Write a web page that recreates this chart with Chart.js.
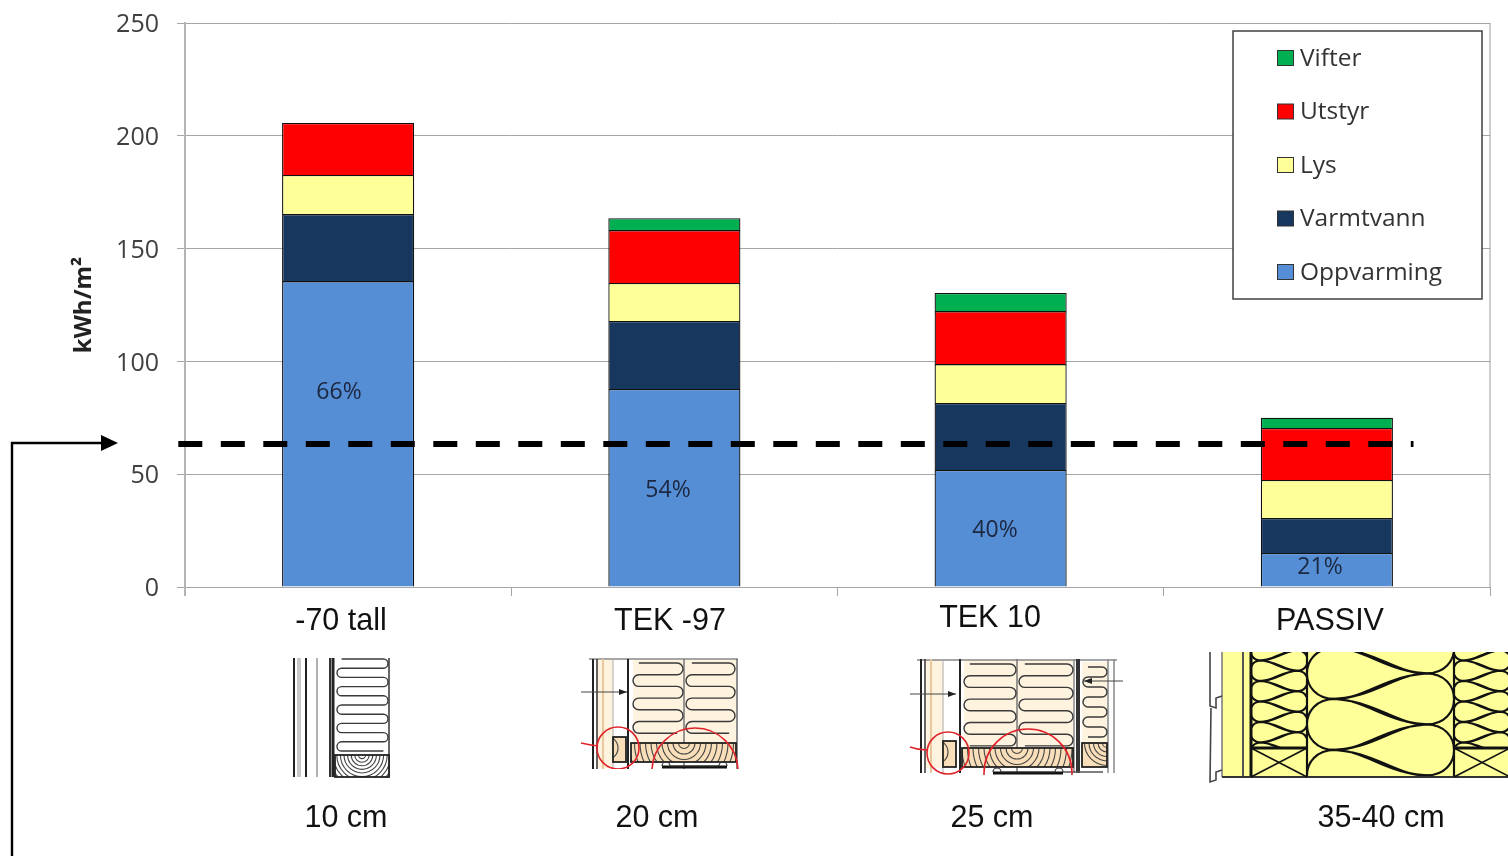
<!DOCTYPE html>
<html>
<head>
<meta charset="utf-8">
<title>kWh/m²</title>
<script src="https://cdn.jsdelivr.net/npm/chart.js@4"></script>
<style>
  html, body { margin: 0; padding: 0; background: #fff; overflow: hidden; }
  canvas { display: block; }
</style>
</head>
<body>
<canvas id="energyChart" width="1508" height="856"></canvas>
<script>
const categories = ['-70 tall', 'TEK -97', 'TEK 10', 'PASSIV'];
const thickness = ['10 cm', '20 cm', '25 cm', '35-40 cm'];
const heatingShare = ['66%', '54%', '40%', '21%'];

const oppvarming = [135.6, 87.8, 51.9, 15.1];
const varmtvann = [29.7, 30.1, 29.7, 15.5];
const lys = [17.3, 16.9, 17.2, 16.8];
const utstyr = [23.1, 23.4, 23.5, 23.1];
const vifter = [0, 5.3, 8.0, 4.5];

const limitValue = 63.4;

const UI_FONT = '"Open Sans", sans-serif';
const SLIDE_FONT = '"Liberation Sans", Arial, sans-serif';

function line(ctx, x0, y0, x1, y1, width, color) {
  ctx.beginPath();
  ctx.moveTo(x0, y0);
  ctx.lineTo(x1, y1);
  ctx.lineWidth = width;
  ctx.strokeStyle = color;
  ctx.stroke();
}

// insulation drawn as one continuous folded line
function serpentine(ctx, x0, x1, y0, step, count) {
  const r = step / 2;
  ctx.beginPath();
  ctx.moveTo(x0 + r, y0);
  for (let i = 0; i < count; i++) {
    const y = y0 + i * step;
    const toRight = i % 2 === 0;
    ctx.lineTo(toRight ? x1 - r : x0 + r, y);
    if (i < count - 1) {
      if (toRight) ctx.arc(x1 - r, y + r, r, -Math.PI / 2, Math.PI / 2);
      else ctx.arc(x0 + r, y + r, r, -Math.PI / 2, Math.PI / 2, true);
    }
  }
  ctx.lineWidth = 1.4;
  ctx.strokeStyle = '#3a3a3a';
  ctx.stroke();
}

// timber cross section with growth rings
function timber(ctx, x, y, w, h, cx, cy, ringStep, fill) {
  ctx.save();
  ctx.beginPath();
  ctx.rect(x, y, w, h);
  ctx.fillStyle = fill;
  ctx.fill();
  ctx.clip();
  ctx.lineWidth = 1.1;
  ctx.strokeStyle = '#444';
  for (let r = ringStep; r < w; r += ringStep) {
    ctx.beginPath();
    ctx.arc(cx, cy, r, 0, Math.PI * 2);
    ctx.stroke();
  }
  ctx.restore();
  ctx.lineWidth = 1.8;
  ctx.strokeStyle = '#222';
  ctx.strokeRect(x, y, w, h);
}

function redCircle(ctx, cx, cy, r, clipBottom) {
  ctx.save();
  ctx.beginPath();
  ctx.rect(cx - r - 3, cy - r - 3, 2 * r + 6, clipBottom - (cy - r - 3));
  ctx.clip();
  ctx.beginPath();
  ctx.arc(cx, cy, r, 0, Math.PI * 2);
  ctx.lineWidth = 1.6;
  ctx.strokeStyle = '#e0222a';
  ctx.stroke();
  ctx.restore();
}

function smallArrow(ctx, x0, x1, y) {
  line(ctx, x0, y, x1, y, 1, '#444');
  const d = x1 > x0 ? -8 : 8;
  ctx.beginPath();
  ctx.moveTo(x1, y);
  ctx.lineTo(x1 + d, y - 3);
  ctx.lineTo(x1 + d, y + 3);
  ctx.closePath();
  ctx.fillStyle = '#222';
  ctx.fill();
}

function bracket(ctx, x0, x1, y) {
  line(ctx, x0, y, x1, y, 3, '#111');
  ctx.beginPath();
  ctx.arc(x0 + 4, y - 1, 4, Math.PI, 0);
  ctx.arc(x1 - 4, y - 1, 4, Math.PI, 0);
  ctx.lineWidth = 1.2;
  ctx.strokeStyle = '#333';
  ctx.stroke();
}

function wall70(ctx) {
  const top = 658, bottom = 777;
  [[294, 2, '#222'], [299, 4, '#c8c8c8'], [306, 2, '#222'], [317, 1.5, '#999'],
   [330, 2, '#333'], [333, 3, '#222'], [389, 1.5, '#333']].forEach(l =>
    line(ctx, l[0], top, l[0], bottom, l[1], l[2]));
  serpentine(ctx, 337, 388, 659, 9.2, 11);
  timber(ctx, 335, 755, 54, 22, 362, 755, 3.6, '#fff');
}

function wallTek97(ctx) {
  ctx.fillStyle = '#fdf3df';
  ctx.fillRect(633, 660, 103, 84);
  ctx.fillRect(596, 660, 17, 108);
  line(ctx, 589, 659, 738, 659, 1.5, '#888');
  [[593, 2, '#222'], [597, 1.5, '#333'], [603, 2, '#e8c89c'], [613, 1, '#aaa'],
   [628, 2, '#222'], [684, 1.5, '#777'], [737, 1.5, '#666']].forEach(l =>
    line(ctx, l[0], 659, l[0], 769, l[1], l[2]));
  serpentine(ctx, 633, 683, 663, 11.7, 7);
  serpentine(ctx, 686, 735, 663, 11.7, 7);
  timber(ctx, 631, 743, 105, 19, 684, 743, 5.5, '#f8dfba');
  timber(ctx, 613, 737, 13, 25, 606, 748, 6, '#f8dfba');
  smallArrow(ctx, 581, 627, 692);
  bracket(ctx, 662, 727, 767);
  redCircle(ctx, 618, 748, 21, 769);
  redCircle(ctx, 695, 771, 43, 769);
  ctx.beginPath();
  ctx.moveTo(581, 743);
  ctx.quadraticCurveTo(590, 745, 598, 746);
  ctx.lineWidth = 1.6;
  ctx.strokeStyle = '#e0222a';
  ctx.stroke();
}

function wallTek10(ctx) {
  ctx.fillStyle = '#fdf3df';
  ctx.fillRect(964, 660, 109, 90);
  ctx.fillRect(926, 660, 17, 108);
  ctx.fillRect(1082, 662, 25, 84);
  line(ctx, 917, 660, 1117, 660, 1.5, '#888');
  [[921, 2, '#222'], [925, 1.5, '#333'], [931, 2, '#e8c89c'], [943, 1, '#aaa'],
   [960, 2, '#222'], [1017, 1.5, '#777'], [1074, 1.5, '#888'], [1078, 4, '#333'],
   [1108, 1.5, '#888'], [1114, 1.5, '#888']].forEach(l =>
    line(ctx, l[0], 659, l[0], 773, l[1], l[2]));
  serpentine(ctx, 964, 1016, 664, 11.7, 8);
  serpentine(ctx, 1019, 1073, 664, 11.7, 8);
  serpentine(ctx, 1083, 1107, 667, 10, 8);
  timber(ctx, 962, 748, 111, 19, 1017, 748, 5.5, '#f8dfba');
  timber(ctx, 943, 741, 13, 26, 936, 752, 6, '#f8dfba');
  timber(ctx, 1082, 743, 25, 24, 1107, 743, 4.5, '#f8dfba');
  smallArrow(ctx, 910, 956, 694);
  smallArrow(ctx, 1123, 1084, 681);
  bracket(ctx, 993, 1063, 773);
  line(ctx, 1063, 772, 1103, 772, 1.4, '#555');
  redCircle(ctx, 948, 753, 21, 775);
  redCircle(ctx, 1028, 773, 44, 775);
  ctx.beginPath();
  ctx.moveTo(910, 747);
  ctx.quadraticCurveTo(918, 750, 927, 750);
  ctx.lineWidth = 1.6;
  ctx.strokeStyle = '#e0222a';
  ctx.stroke();
}

// mineral wool symbol: alternating teardrops between two edges
function woolLobes(ctx, x0, x1, yStart, period, count) {
  const w = x1 - x0;
  const half = period / 2;
  ctx.beginPath();
  for (let i = 0; i < count; i++) {
    const yTip = yStart + i * period;
    const top = yTip - half, bot = yTip + half;
    // bulge towards the right, tip on the left
    ctx.moveTo(x0 + w * 0.14, yTip);
    ctx.bezierCurveTo(x0 + w * 0.45, yTip, x0 + w * 0.6, top, x0 + w * 0.82, top);
    ctx.bezierCurveTo(x1 + w * 0.08, top, x1 + w * 0.08, bot, x0 + w * 0.82, bot);
    ctx.bezierCurveTo(x0 + w * 0.6, bot, x0 + w * 0.45, yTip, x0 + w * 0.14, yTip);
    // bulge towards the left, tip on the right
    const yTip2 = yTip + half;
    ctx.moveTo(x1 - w * 0.14, yTip2);
    ctx.bezierCurveTo(x1 - w * 0.45, yTip2, x1 - w * 0.6, yTip2 - half, x1 - w * 0.82, yTip2 - half);
    ctx.bezierCurveTo(x0 - w * 0.08, yTip2 - half, x0 - w * 0.08, yTip2 + half, x1 - w * 0.82, yTip2 + half);
    ctx.bezierCurveTo(x1 - w * 0.6, yTip2 + half, x1 - w * 0.45, yTip2, x1 - w * 0.14, yTip2);
  }
  ctx.lineWidth = 2.2;
  ctx.strokeStyle = '#111';
  ctx.stroke();
}

function wallPassive(ctx) {
  const top = 652, bottom = 777, right = 1508;
  ctx.fillStyle = '#ffff99';
  ctx.fillRect(1222, top, right - 1222, bottom - top);

  ctx.save();
  ctx.beginPath();
  ctx.rect(1251, top, 56, 96);
  ctx.rect(1454, top, 54, 96);
  ctx.clip();
  woolLobes(ctx, 1251, 1307, 640, 20.5, 6);
  woolLobes(ctx, 1454, 1510, 640, 20.5, 6);
  ctx.restore();

  ctx.save();
  ctx.beginPath();
  ctx.rect(1307, top, 147, bottom - top);
  ctx.clip();
  woolLobes(ctx, 1309, 1452, 648, 51, 3);
  ctx.restore();

  [[1222, 1.5, '#777'], [1243, 2, '#555'], [1251, 3, '#111'], [1307, 2.2, '#111'], [1454, 2.2, '#111']]
    .forEach(l => line(ctx, l[0], top, l[0], bottom, l[1], l[2]));
  line(ctx, 1222, bottom, right, bottom, 2, '#333');
  line(ctx, 1251, 748, 1307, 748, 3, '#111');
  line(ctx, 1454, 748, right, 748, 3, '#111');
  line(ctx, 1251, 748, 1307, 777, 1.6, '#111');
  line(ctx, 1251, 777, 1307, 748, 1.6, '#111');
  line(ctx, 1454, 748, 1510, 777, 1.6, '#111');
  line(ctx, 1454, 777, 1510, 748, 1.6, '#111');

  // cladding profile on the outer face
  ctx.beginPath();
  ctx.moveTo(1210, 652);
  ctx.lineTo(1210, 706);
  ctx.lineTo(1216, 708);
  ctx.lineTo(1216, 698);
  ctx.lineTo(1222, 696);
  ctx.moveTo(1211, 708);
  ctx.lineTo(1210, 782);
  ctx.lineTo(1216, 780);
  ctx.lineTo(1216, 772);
  ctx.lineTo(1222, 770);
  ctx.lineWidth = 1.6;
  ctx.strokeStyle = '#444';
  ctx.stroke();
}

const plotFrame = {
  id: 'plotFrame',
  beforeDatasetsDraw(chart) {
    const { ctx, chartArea: a } = chart;
    ctx.save();
    line(ctx, a.right, a.top, a.right, a.bottom, 1, '#9a9a9a');
    line(ctx, a.left, a.top - 1, a.left, a.bottom + 9, 2, '#b4b4b4');
    ctx.restore();
  }
};

// dashed requirement level across the bars, plus the arrow coming in from below
const limitLine = {
  id: 'limitLine',
  afterDatasetsDraw(chart) {
    const { ctx, scales: { y } } = chart;
    const yPos = y.getPixelForValue(limitValue);
    ctx.save();
    ctx.setLineDash([24, 18.5]);
    line(ctx, 178.3, yPos, 1413.5, yPos, 6, '#000');
    ctx.restore();

    ctx.save();
    ctx.beginPath();
    ctx.moveTo(12, 856);
    ctx.lineTo(12, yPos - 1);
    ctx.lineTo(104, yPos - 1);
    ctx.lineWidth = 2.4;
    ctx.strokeStyle = '#000';
    ctx.stroke();
    ctx.beginPath();
    ctx.moveTo(118, yPos - 1);
    ctx.lineTo(101, yPos - 9);
    ctx.lineTo(101, yPos + 7);
    ctx.closePath();
    ctx.fillStyle = '#000';
    ctx.fill();
    ctx.restore();
  }
};

const legendBox = {
  id: 'legendBox',
  afterDraw(chart) {
    const ctx = chart.ctx;
    ctx.save();
    ctx.fillStyle = '#fff';
    ctx.fillRect(1233, 31, 249, 268);
    ctx.lineWidth = 1.5;
    ctx.strokeStyle = '#404040';
    ctx.strokeRect(1233, 31, 249, 268);
    ctx.font = '24.5px ' + UI_FONT;
    ctx.textBaseline = 'middle';
    chart.data.datasets.slice().reverse().forEach((ds, i) => {
      const yMid = 58 + i * 53.5;
      ctx.fillStyle = ds.backgroundColor;
      ctx.fillRect(1277.5, yMid - 7.5, 16, 15);
      ctx.lineWidth = 1;
      ctx.strokeStyle = '#333';
      ctx.strokeRect(1277.5, yMid - 7.5, 16, 15);
      ctx.fillStyle = '#333';
      ctx.fillText(ds.label, 1300, yMid + 1);
    });
    ctx.restore();
  }
};

const slideTexts = {
  id: 'slideTexts',
  afterDraw(chart) {
    const ctx = chart.ctx;
    const labelX = [341, 670, 990, 1330];
    const labelY = [622, 622, 619, 622];
    const sizeX = [346, 657, 992, 1381];
    const shareX = [339, 668, 995, 1320];
    const shareY = [392, 490, 530, 567];
    ctx.save();
    ctx.textAlign = 'center';
    ctx.textBaseline = 'middle';
    ctx.font = '23px ' + UI_FONT;
    ctx.fillStyle = '#1c2740';
    heatingShare.forEach((t, i) => ctx.fillText(t, shareX[i], shareY[i]));
    ctx.font = '30.5px ' + SLIDE_FONT;
    ctx.fillStyle = '#111';
    categories.forEach((t, i) => ctx.fillText(t, labelX[i], labelY[i]));
    thickness.forEach((t, i) => ctx.fillText(t, sizeX[i], 819));
    wall70(ctx);
    wallTek97(ctx);
    wallTek10(ctx);
    wallPassive(ctx);
    ctx.restore();
  }
};

function series(label, data, color) {
  return { label, data, backgroundColor: color, borderColor: '#111', borderWidth: 1.3, stack: 'energy' };
}

const energyChart = new Chart(document.getElementById('energyChart').getContext('2d'), {
  type: 'bar',
  data: {
    labels: categories,
    datasets: [
      series('Oppvarming', oppvarming, '#558ed5'),
      series('Varmtvann', varmtvann, '#17375e'),
      series('Lys', lys, '#ffff99'),
      series('Utstyr', utstyr, '#ff0000'),
      series('Vifter', vifter, '#00b050')
    ]
  },
  options: {
    responsive: false,
    animation: false,
    layout: { padding: { top: 23, right: 18, left: 0, bottom: 0 } },
    categoryPercentage: 0.405,
    barPercentage: 1,
    scales: {
      x: {
        stacked: true,
        afterFit: scale => { scale.height = 269; },
        ticks: { display: false },
        border: { color: '#a6a6a6' },
        grid: { drawOnChartArea: false, tickLength: 9, color: '#a6a6a6' }
      },
      y: {
        stacked: true,
        min: 0,
        max: 250,
        afterFit: scale => {
          scale.width = 185;
          scale.paddingTop = 0;
          scale.paddingBottom = 0;
        },
        ticks: {
          stepSize: 50,
          padding: 18,
          color: '#404040',
          // empty first line nudges the numbers down a touch
          callback: v => ['', String(v)],
          font: { family: UI_FONT, size: 25, lineHeight: 0.16 }
        },
        border: { display: false },
        grid: { color: '#a6a6a6', lineWidth: 1, tickLength: 8 },
        title: {
          display: true,
          text: 'kWh/m²',
          color: '#222',
          padding: { top: 70, bottom: 0 },
          font: { family: UI_FONT, size: 24, weight: 'bold' }
        }
      }
    },
    plugins: {
      legend: { display: false },
      tooltip: { enabled: false }
    }
  },
  plugins: [plotFrame, limitLine, legendBox, slideTexts]
});
</script>
</body>
</html>
